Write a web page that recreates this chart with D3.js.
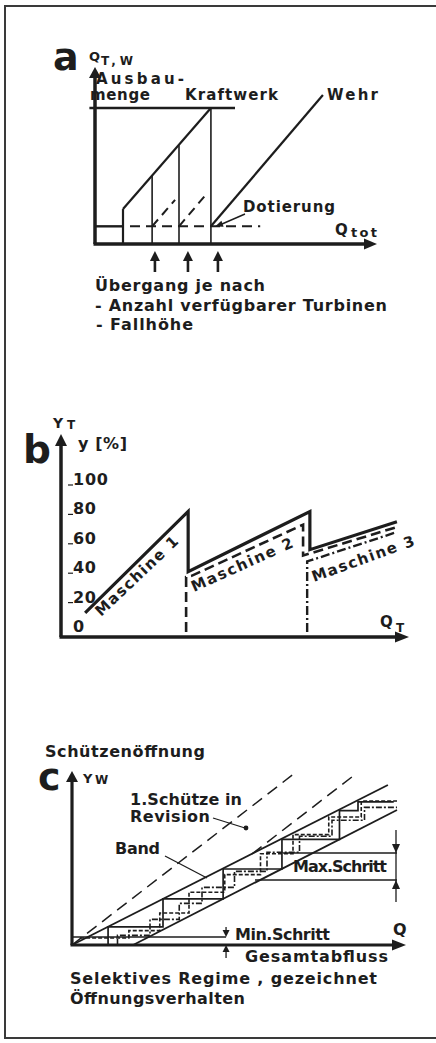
<!DOCTYPE html>
<html>
<head>
<meta charset="utf-8">
<script src="https://cdn.jsdelivr.net/npm/d3@7"></script>
<style>
    body { margin: 0; background: #fff; }
    svg { display: block; font-family: "DejaVu Sans", "Liberation Sans", sans-serif; font-weight: bold; }
</style>
</head>
<body>
<svg id="chart" width="436" height="1043"></svg>
<script>
// --- panel a: Q_T,W over Q_tot (units 0..100, 100 = Ausbaumenge)
const aDotierung = 13
const aAusbau = 100
const aAusbauRange = [-2, 50]
const aBase = [[0, 13], [10, 13]]
const aKraftwerk = [[10, 25.7], [41.4, 100]]
const aTransitions = [10, 20.4, 30, 41.4]
const aTransitionTops = [25.7, 50.3, 72.7, 100]
const aDashedSlants = [[[20.4, 13], [28.6, 32.4]], [[30, 13], [40.4, 38.2]]]
const aDotierungDash = [12.5, 59]
const aWehr = [[41.4, 13], [81.4, 109.6]]
const aArrowsAt = [21.4, 33.2, 43.9]

// --- panel b: y [%] over Q_T
const bTicks = [0, 20, 40, 60, 80, 100]
const bSolid = [[7.1, 13], [37.4, 82], [37.4, 41], [73.2, 82], [73.2, 56], [98.8, 75]]
const bDashed = [[36.8, 0], [36.8, 37.4], [38.4, 38.2], [71.2, 73], [71.2, 52], [98.8, 71.4]]
const bDashDot = [[72.4, 0], [72.4, 48], [73.8, 49], [98.8, 68]]

// --- panel c: Y_W over Q
const cUpperBand = [[0, 0], [97.2, 100]]
const cLowerBand = [[18.8, 0], [100, 84.4]]
const cRevision1 = [[0, 0], [68.6, 107.5]]
const cRevision2 = [[55.4, 56.9], [87.7, 107.5]]
const cSolidSteps = [[11.1, 0], [11.1, 11.3], [28, 11.3], [28, 28.8], [46.5, 28.8], [46.5, 47.5],
    [64.6, 47.5], [64.6, 66], [82.3, 66], [82.3, 84], [88, 84], [88, 89.4], [99, 89.4]]
const cDashedSteps = [[2.5, 4.4], [17.5, 4.4], [17.5, 9], [27, 9], [27, 20], [36, 20], [36, 33],
    [47, 33], [47, 44], [58, 44], [58, 57], [68, 57], [68, 69], [79, 69], [79, 80], [89, 80], [89, 90], [100, 90]]
const cDashDotSteps = [[14, 0], [14, 6], [24, 6], [24, 16], [33, 16], [33, 26], [40, 26], [40, 36],
    [50, 36], [50, 46], [60, 46], [60, 58], [70, 58], [70, 68], [80, 68], [80, 78], [90, 78], [90, 86], [100, 86]]
const cMinStep = 5
const cMinStepEnd = 47.4
const cMaxSteps = [40.6, 57.5]
const cMaxStepStarts = [56.3, 64.9]

const ink = '#1d1d1d'
const svg = d3.select('#chart')

const drawLine = (g, pts, x, y, width, dash) =>
    g.append('path')
        .attr('d', d3.line().x(d => x(d[0])).y(d => y(d[1]))(pts))
        .attr('fill', 'none')
        .attr('stroke', ink)
        .attr('stroke-width', width)
        .attr('stroke-dasharray', dash || null)

const seg = (g, x1, y1, x2, y2, width) =>
    g.append('line')
        .attr('x1', x1).attr('y1', y1).attr('x2', x2).attr('y2', y2)
        .attr('stroke', ink).attr('stroke-width', width)

// filled arrow head, tip at (tx, ty), pointing along angle (deg, 0 = right, 90 = down)
const head = (g, tx, ty, angle, len, half) => {
    const a = angle * Math.PI / 180
    const bx = tx - len * Math.cos(a), by = ty - len * Math.sin(a)
    const px = -Math.sin(a) * half, py = Math.cos(a) * half
    g.append('path')
        .attr('d', `M${tx},${ty}L${bx + px},${by + py}L${bx - px},${by - py}Z`)
        .attr('fill', ink)
}

const addText = (g, str, x, y, size, width) => {
    const t = g.append('text')
        .attr('x', x).attr('y', y)
        .attr('fill', ink)
        .style('font-size', size + 'px')
        .text(str)
    if (width) t.attr('textLength', width).attr('lengthAdjust', 'spacing')
    return t
}

const addRotated = (g, str, x, y, angle, size, width) =>
    g.append('text')
        .attr('transform', `translate(${x},${y}) rotate(${angle})`)
        .attr('fill', ink)
        .style('font-size', size + 'px')
        .attr('textLength', width).attr('lengthAdjust', 'spacing')
        .text(str)

// frame
svg.append('path')
    .attr('d', 'M436,6H5V1038H436')
    .attr('fill', 'none').attr('stroke', '#3a3a3a').attr('stroke-width', 2)

// ---------------- panel a
const ga = svg.append('g')
const ax = d3.scaleLinear().domain([0, 100]).range([95, 375])
const ay = d3.scaleLinear().domain([0, 100]).range([244, 108])

seg(ga, ax(0), ay(0), ax(0), 77, 3.5)
head(ga, ax(0), 67, -90, 11, 6)
seg(ga, ax(0) - 1.5, ay(0), 366, ay(0), 3.5)
head(ga, 377, ay(0), 0, 13, 5.5)

drawLine(ga, [[aAusbauRange[0], aAusbau], [aAusbauRange[1], aAusbau]], ax, ay, 2.6)
drawLine(ga, aBase, ax, ay, 2.4)
drawLine(ga, aKraftwerk, ax, ay, 2.2)
aTransitions.forEach((t, i) => drawLine(ga, [[t, 0], [t, aTransitionTops[i]]], ax, ay, i === 0 ? 2.2 : 1.6))
aDashedSlants.forEach(s => drawLine(ga, s, ax, ay, 2, '9,6'))
drawLine(ga, [[aDotierungDash[0], aDotierung], [aDotierungDash[1], aDotierung]], ax, ay, 2, '10,6')
drawLine(ga, aWehr, ax, ay, 2.2)

aArrowsAt.forEach(a => {
    seg(ga, ax(a), 272, ax(a), 259, 2.6)
    head(ga, ax(a), 251, -90, 10, 5)
})

// Dotierung pointer
seg(ga, 245, 214, 222, 224, 1.4)
head(ga, 215, 226.5, 160, 8, 3.2)

addText(svg, 'a', 53, 70, 38)
addText(svg, 'Q', 89, 61, 13)
addText(svg, 'T,W', 101, 65, 12, 32)
addText(svg, 'Ausbau-', 96, 84, 15, 88)
addText(svg, 'menge', 90, 100, 15, 60)
addText(svg, 'Kraftwerk', 185, 100, 15, 93)
addText(svg, 'Wehr', 327, 100, 15, 51)
addText(svg, 'Dotierung', 243, 212, 15, 92)
addText(svg, 'Q', 335, 235, 15)
addText(svg, 'tot', 351, 237, 13, 26)
addText(svg, 'Übergang je nach', 95, 291, 16, 170)
addText(svg, '- Anzahl verfügbarer Turbinen', 95, 311, 16, 292)
addText(svg, '- Fallhöhe', 96, 330, 16, 97)

// ---------------- panel b
const gb = svg.append('g')
const bx = d3.scaleLinear().domain([0, 100]).range([61, 401])
const by = d3.scaleLinear().domain([0, 100]).range([632, 485])

seg(gb, bx(0), 637, bx(0), 445, 3.5)
head(gb, bx(0), 434, -90, 12, 6)
seg(gb, bx(0) - 1.5, 637, 396, 637, 3.5)
head(gb, 409, 637, 0, 14, 5.5)

bTicks.forEach(t => {
    if (t > 0) seg(gb, 68, by(t), 73, by(t), 1.2)
    addText(gb, String(t), 73, by(t), 16, t === 100 ? 35 : t === 0 ? null : 23)
})

drawLine(gb, bSolid, bx, by, 3.2).attr('stroke-linejoin', 'miter')
drawLine(gb, bDashed, bx, by, 2.6, '10,5')
drawLine(gb, bDashDot, bx, by, 2.4, '9,3,2,3')

addText(svg, 'b', 23, 463, 39)
addText(svg, 'Y', 53, 428, 14)
addText(svg, 'T', 67, 429, 12)
addText(svg, 'y [%]', 78, 449, 16, 49)
addText(svg, 'Q', 380, 627, 15)
addText(svg, 'T', 396, 632, 12)
addRotated(svg, 'Maschine 1', 101, 617, -43.5, 15, 108)
addRotated(svg, 'Maschine 2', 194, 592, -24.3, 15, 110)
addRotated(svg, 'Maschine 3', 314, 582, -20, 15, 108)

// ---------------- panel c
const gc = svg.append('g')
const cx = d3.scaleLinear().domain([0, 100]).range([72, 397])
const cy = d3.scaleLinear().domain([0, 100]).range([945, 785])

drawLine(gc, cRevision1, cx, cy, 1.5, '12,7')
drawLine(gc, cRevision2, cx, cy, 1.5, '12,7')
drawLine(gc, cUpperBand, cx, cy, 1.8)
drawLine(gc, cLowerBand, cx, cy, 1.8)
drawLine(gc, cSolidSteps, cx, cy, 1.7)
drawLine(gc, cDashedSteps, cx, cy, 1.6, '4,2')
drawLine(gc, cDashDotSteps, cx, cy, 1.6, '6,2,2,2')

drawLine(gc, [[0, cMinStep], [cMinStepEnd, cMinStep]], cx, cy, 1.6)
cMaxSteps.forEach((m, i) => drawLine(gc, [[cMaxStepStarts[i], m], [100, m]], cx, cy, 1.6))

// step size markers
seg(gc, 396, 830, 396, 902, 1.3)
head(gc, 396, cy(cMaxSteps[1]), 90, 9, 4)
head(gc, 396, cy(cMaxSteps[0]), -90, 9, 4)
seg(gc, cx(cMinStepEnd), 927, cx(cMinStepEnd), 932, 1.3)
head(gc, cx(cMinStepEnd), cy(cMinStep), 90, 7, 3.5)
seg(gc, cx(cMinStepEnd), 958, cx(cMinStepEnd), 950, 1.3)
head(gc, cx(cMinStepEnd), 945, -90, 7, 3.5)

seg(gc, cx(0), 945, cx(0), 781, 3.2)
head(gc, cx(0), 771, -90, 11, 6)
seg(gc, cx(0) - 1.5, 945, 394, 945, 3.2)
head(gc, 406, 945, 0, 14, 5.5)

// leaders
seg(gc, 213, 818, 245, 828, 1.3)
gc.append('circle').attr('cx', 246).attr('cy', 828).attr('r', 2.4).attr('fill', ink)
seg(gc, 165, 856, 207, 878, 1.3)

addText(svg, 'Schützenöffnung', 45, 757, 16, 160)
addText(svg, 'c', 38, 790, 38)
addText(svg, 'Y', 83, 783, 13)
addText(svg, 'W', 95, 784, 12)
addText(svg, '1.Schütze in', 130, 805, 16, 112)
addText(svg, 'Revision', 130, 822, 16, 80)
addText(svg, 'Band', 115, 854, 16, 45)
addText(svg, 'Max.Schritt', 293, 872, 16, 94)
addText(svg, 'Min.Schritt', 235, 940, 16, 95)
addText(svg, 'Q', 393, 935, 16)
addText(svg, 'Gesamtabfluss', 245, 962, 16, 143)
addText(svg, 'Selektives Regime , gezeichnet', 70, 984, 16, 307)
addText(svg, 'Öffnungsverhalten', 70, 1004, 16, 175)
</script>
</body>
</html>
